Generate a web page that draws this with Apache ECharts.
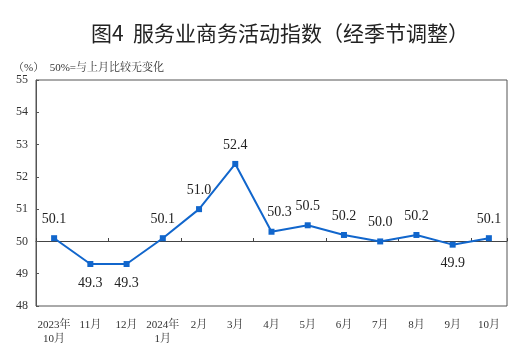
<!DOCTYPE html>
<html><head><meta charset="utf-8">
<script src="https://cdn.jsdelivr.net/npm/echarts@6/dist/echarts.min.js"></script>
<style>html,body{margin:0;padding:0;background:#fff}#c{width:521px;height:350px}</style>
</head><body><div id="c"></div>
<script>
const categories = ['2023年\n10月','11月','12月','2024年\n1月','2月','3月','4月','5月','6月','7月','8月','9月','10月'];
const values = [50.1, 49.3, 49.3, 50.1, 51.0, 52.4, 50.3, 50.5, 50.2, 50.0, 50.2, 49.9, 50.1];
const labelBelow = [false, true, true, false, false, false, false, false, false, false, false, true, false];
const yTicks = [48, 49, 50, 51, 52, 53, 54, 55];

const serif = '"Liberation Serif","Times New Roman","Noto Serif CJK SC","Noto Sans CJK SC",serif';
const chart = echarts.init(document.getElementById('c'), null, {renderer: 'canvas'});
const data = values.map((v, i) => ({
  value: v,
  label: {
    position: labelBelow[i] ? 'bottom' : 'top',
    distance: 9,
    offset: i === 6 ? [8, 0] : [0, 0]
  }
}));
chart.setOption({
  animation: false,
  backgroundColor: '#fff',
  title: [{
    text: '图4  服务业商务活动指数（经季节调整）',
    left: 86, top: 18,
    textStyle: {fontFamily: '"Noto Sans CJK SC",sans-serif', fontSize: 21, fontWeight: 'normal', color: '#222'}
  }, {
    text: '（%）  50%=与上月比较无变化',
    left: 8, top: 58,
    textStyle: {fontFamily: serif, fontSize: 11, fontWeight: 'normal', color: '#333'}
  }],
  grid: {left: 36, right: 14, top: 80, bottom: 44, show: true, borderColor: '#555', borderWidth: 1},
  xAxis: [{
    type: 'category', data: categories, position: 'bottom',
    axisLine: {show: false}, axisTick: {show: false},
    axisLabel: {fontFamily: serif, fontSize: 11, color: '#333', margin: 12, lineHeight: 14, interval: 0}
  }, {
    type: 'category', data: categories, position: 'bottom', offset: -65,
    axisLine: {show: true, lineStyle: {color: '#444', width: 1}},
    axisTick: {show: true, inside: true, length: 3, lineStyle: {color: '#444'}},
    axisLabel: {show: false}
  }],
  yAxis: {
    type: 'value', min: yTicks[0], max: yTicks[yTicks.length - 1], interval: 1,
    axisLine: {show: true, lineStyle: {color: '#555'}},
    axisTick: {show: true, inside: true, length: 3, lineStyle: {color: '#555'}},
    splitLine: {show: false},
    axisLabel: {fontFamily: serif, fontSize: 12, color: '#333', margin: 8}
  },
  series: [{
    type: 'line', data: data, xAxisIndex: 0,
    symbol: 'rect', symbolSize: 6,
    lineStyle: {color: '#1166cc', width: 2},
    itemStyle: {color: '#1166cc'},
    label: {show: true, fontFamily: serif, fontSize: 14, color: '#222', formatter: p => p.value.toFixed(1)}
  }]
});
</script></body></html>
